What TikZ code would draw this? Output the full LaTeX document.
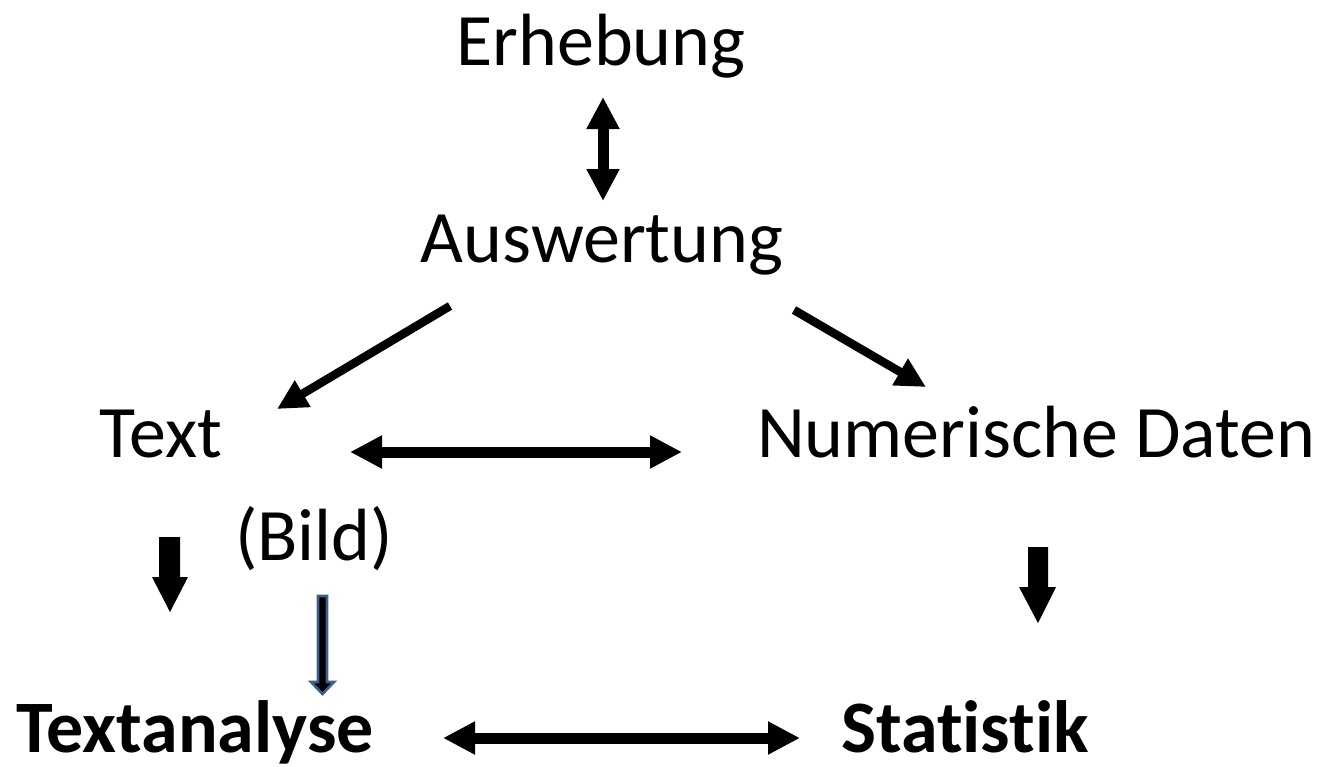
\documentclass[tikz,border=0pt]{standalone}
\usepackage{fontspec}
\setmainfont{Carlito}[Ligatures=NoCommon]
\usetikzlibrary{arrows.meta}
\definecolor{bluerim}{RGB}{62,96,140}
\tikzset{
  lbl/.style={anchor=base, inner sep=0pt, font=\fontsize{74}{88}\selectfont},
  blbl/.style={lbl, font=\fontsize{74}{88}\selectfont\bfseries},
  dbl/.style={line width=11pt, {Triangle[length=32pt,width=31pt]}-{Triangle[length=32pt,width=31pt]}},
  sgl/.style={line width=8.5pt, -{Triangle[length=30pt,width=29pt]}},
  blockarrow/.style={fill=black}
}
\begin{document}
\begin{tikzpicture}[x=1pt,y=-1pt]
\useasboundingbox (0,0) rectangle (1323,766);
% texts
\node[lbl] (erh) at (601,65) {Erhebung};
\node[lbl] (ausw) at (602,262) {Auswertung};
\node[lbl] (text) at (161,457) {Text};
\node[lbl] (num) at (1036,457) {Numerische Daten};
\node[lbl] (bild) at (314,560) {(Bild)};
\node[blbl] (tana) at (195,752) {Textanalyse};
\node[blbl] (stat) at (965,752) {Statistik};
% endpoints
\coordinate (e1) at (603,97);
\coordinate (e2) at (603,201);
\coordinate (d1s) at (450,306);
\coordinate (d1e) at (277,409);
\coordinate (d2s) at (794,310);
\coordinate (d2e) at (926,387);
\coordinate (h1s) at (350,452);
\coordinate (h1e) at (682,452);
\coordinate (h2s) at (443,738);
\coordinate (h2e) at (800,738);
% connectors
\draw[dbl] (e1) -- (e2);
\draw[sgl] (d1s) -- (d1e);
\draw[sgl] (d2s) -- (d2e);
\draw[dbl] (h1s) -- (h1e);
\draw[dbl] (h2s) -- (h2e);
% block arrows
\fill[blockarrow] (159,537) -- (180,537) -- (180,577) -- (188,577) -- (170,612) -- (152,577) -- (159,577) -- cycle;
\fill[blockarrow] (1028,547) -- (1048,547) -- (1048,587) -- (1056,587) -- (1038,623) -- (1019,587) -- (1028,587) -- cycle;
\filldraw[fill=black, draw=bluerim, line width=2.6pt, line join=miter] (318,596) -- (327,596) -- (327,682) -- (334,682) -- (322.5,694) -- (311,682) -- (318,682) -- cycle;
\end{tikzpicture}
\end{document}
